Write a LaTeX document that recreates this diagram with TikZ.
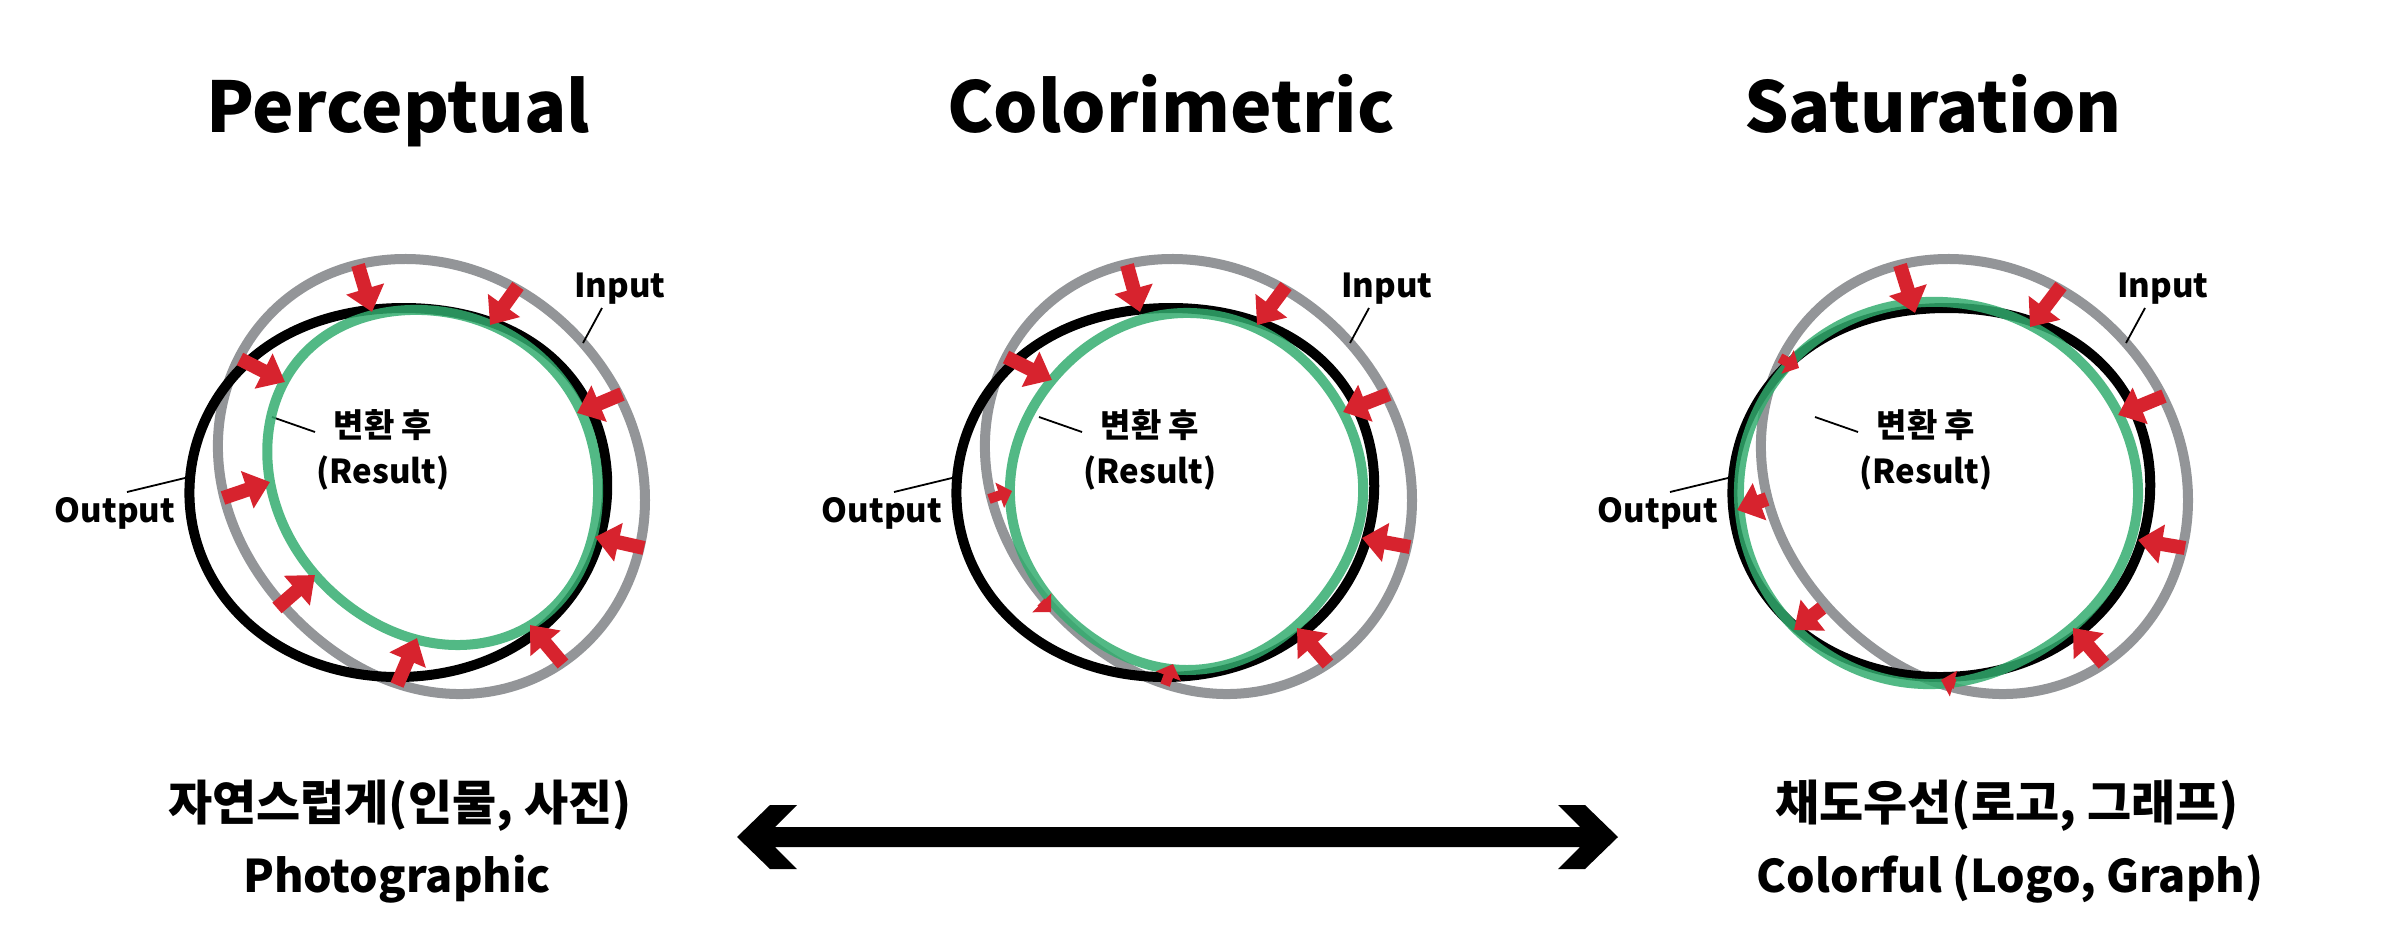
\documentclass[tikz,border=0pt]{standalone}
\usepackage{fontspec}
\setmainfont{Noto Sans CJK KR}
\usetikzlibrary{arrows.meta,hobby}
\definecolor{gin}{RGB}{147,149,152}
\definecolor{gres}{RGB}{50,172,110}
\definecolor{rarr}{RGB}{215,35,46}
\tikzset{
  inputline/.style={draw=gin, line width=10pt, use Hobby shortcut, closed=true},
  outputline/.style={draw=black, line width=10pt, use Hobby shortcut, closed=true},
  resultline/.style={draw=gres, line width=10pt, draw opacity=0.84, use Hobby shortcut, closed=true},
  redarrow/.style={draw=rarr, line width=14pt, -{Triangle[width=38pt,length=24pt]}},
  smallarrow/.style={draw=rarr, line width=10pt, -{Triangle[width=26pt,length=13pt]}},
  leader/.style={draw=black, line width=1.8pt},
  lbl/.style={font=\bfseries\fontsize{33}{38}\selectfont, inner sep=0pt, anchor=base},
  titletxt/.style={font=\bfseries\fontsize{70}{80}\selectfont, inner sep=0pt, anchor=base},
  bottomkr/.style={font=\bfseries\fontsize{48}{54}\selectfont, inner sep=0pt, anchor=base},
  bottomtxt/.style={font=\bfseries\fontsize{45}{50}\selectfont, inner sep=0pt, anchor=base}
}
\newcommand\commonpanel[1]{%
  \draw[inputline] (403,259) .. (583,343) .. (645,500) .. (562,663) .. (440,693) .. (300,623) .. (218,440) .. (292,295);
  \draw[outputline] (403,308) .. (567,373) .. (607,495) .. (560,610) .. (400,677) .. (235,610) .. (190,507) .. (250,360);
  \node[lbl] (#1in) at (620,297) {Input};
  \coordinate (#1inA) at (602,308);
  \coordinate (#1inB) at (583,343);
  \draw[leader] (#1inA) -- (#1inB);
  \node[lbl] (#1out) at (115,522) {Output};
  \coordinate (#1outA) at (127,492);
  \coordinate (#1outB) at (185,478);
  \draw[leader] (#1outA) -- (#1outB);
  \node[lbl] (#1res) at (383,437) {변환 후};
  \node[lbl] (#1resE) at (383,483) {(Result)};
  \coordinate (#1resA) at (315,432);
  \coordinate (#1resB) at (272,417);
  \draw[leader] (#1resA) -- (#1resB);
}
\begin{document}
\begin{tikzpicture}[x=1pt,y=-1pt]
\useasboundingbox (0,0) rectangle (2394,948);
\fill[white] (0,0) rectangle (2394,948);

% titles
\node[titletxt] (t1) at (398,132) {Perceptual};
\node[titletxt] (t2) at (1171,132) {Colorimetric};
\node[titletxt] (t3) at (1933,132) {Saturation};

% panel 1
\begin{scope}
  \commonpanel{a}
  \draw[resultline] (410,310) .. (567,387) .. (598,497) .. (545,615) .. (460,645) .. (350,607) .. (270,482) .. (303,355);
  \draw[redarrow] (358,265) -- (372,312);
  \draw[redarrow] (518,286) -- (490,325);
  \draw[redarrow] (240,359) -- (285,382);
  \draw[redarrow] (622,394) -- (577,413);
  \draw[redarrow] (223,498) -- (270,482);
  \draw[redarrow] (644,548) -- (595,537);
  \draw[redarrow] (277,608) -- (315,575);
  \draw[redarrow] (397,685) -- (417,638);
  \draw[redarrow] (563,664) -- (530,625);
\end{scope}

% panel 2
\begin{scope}[shift={(767,0)}]
  \commonpanel{b}
  \draw[resultline] (416,313) .. (576,412) .. (596,497) .. (560,592) .. (420,670) .. (320,634) .. (243,497) .. (285,380);
  \draw[redarrow] (360,265) -- (373,312);
  \draw[redarrow] (519,286) -- (490,325);
  \draw[redarrow] (239,357) -- (285,380);
  \draw[redarrow] (622,394) -- (576,412);
  \draw[smallarrow] (222,499) -- (245,491);
  \draw[smallarrow] (274,602) -- (284,612);
  \draw[smallarrow] (398,685) -- (406,664);
  \draw[redarrow] (643,547) -- (595,538);
  \draw[redarrow] (561,664) -- (530,628);
\end{scope}

% panel 3
\begin{scope}[shift={(1543,0)}]
  \commonpanel{c}
  \draw[resultline] (400,302) .. (575,413) .. (595,497) .. (560,595) .. (480,660) .. (414,682) .. (254,630) .. (197,513) .. (247,363);
  \draw[redarrow] (357,265) -- (372,313);
  \draw[redarrow] (518,286) -- (487,327);
  \draw[smallarrow] (237,358) -- (256,368);
  \draw[redarrow] (621,396) -- (575,415);
  \draw[redarrow] (224,499) -- (194,510);
  \draw[redarrow] (642,548) -- (595,540);
  \draw[redarrow] (279,608) -- (251,630);
  \draw[smallarrow] (412,684) -- (398,680);
  \draw[redarrow] (561,664) -- (530,628);
\end{scope}

% bottom texts
\node[bottomkr] (b1) at (400,820) {자연스럽게(인물, 사진)};
\node[bottomtxt] (b2) at (397,892) {Photographic};
\node[bottomkr] (b3) at (2007,820) {채도우선(로고, 그래프)};
\node[bottomtxt] (b4) at (2010,892) {Colorful (Logo, Graph)};

% double arrow
\fill[black] (737,837) -- (770,805) -- (797,805) -- (775,827) -- (1580,827) -- (1558,805) -- (1585,805) -- (1618,837) -- (1585,869) -- (1558,869) -- (1580,847) -- (775,847) -- (797,869) -- (770,869) -- cycle;
\end{tikzpicture}
\end{document}
